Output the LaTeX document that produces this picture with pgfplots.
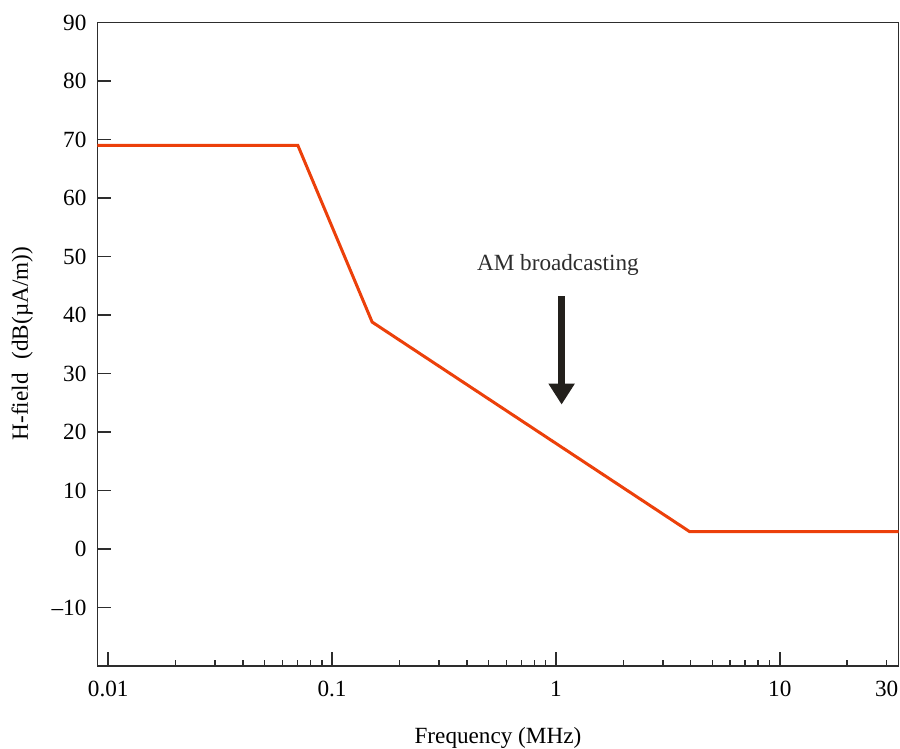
\documentclass[border=0pt]{standalone}
\usepackage{fontspec}
\setmainfont{Liberation Serif}
\usepackage{pgfplots}
\pgfplotsset{compat=1.18}
\usetikzlibrary{arrows.meta}
\definecolor{hline}{RGB}{236,64,10}
\definecolor{axgray}{RGB}{45,45,45}
\definecolor{arrowk}{RGB}{35,32,28}

\begin{document}
\begin{tikzpicture}
\begin{semilogxaxis}[
    scale only axis,
    width=400.75pt, height=322pt,
    xmin=0.00895, xmax=33.9,
    ymin=-20, ymax=90,
    font=\fontsize{11.6}{14}\selectfont,
    /pgf/number format/assume math mode=true,
    axis line style={axgray, line width=0.75pt},
    every tick/.style={axgray, line width=0.75pt},
    tick align=inside,
    xtick pos=bottom, ytick pos=left,
    xtick={0.01,0.1,1,10},
    xticklabels={0.01,0.1,1,10},
    minor xtick={0.02,0.03,0.04,0.05,0.06,0.07,0.08,0.09,
                 0.2,0.3,0.4,0.5,0.6,0.7,0.8,0.9,
                 2,3,4,5,6,7,8,9,20},
    extra x ticks={30},
    extra x tick labels={30},
    extra x tick style={major tick length=3.3pt},
    ytick={-10,0,10,20,30,40,50,60,70,80,90},
    yticklabels={--10,0,10,20,30,40,50,60,70,80,90},
    minor y tick num=0,
    major tick length=7pt,
    minor tick length=3.3pt,
    xticklabel style={yshift=-4pt},
    yticklabel style={xshift=-2pt},
    xlabel={Frequency (MHz)},
    ylabel={H-field\hspace{0.6em}(dB(µA/m))},
    xlabel style={at={(axis description cs:0.5,-0.111)}, anchor=center},
    ylabel style={at={(axis description cs:-0.094,0.501)}, anchor=center, rotate=0},
  ]
  % radiated emission limit line
  \addplot[hline, line width=1.5pt, line join=miter] coordinates {
    (0.00895,69) (0.0703,69) (0.151,38.8) (3.95,3) (33.9,3)
  };
  \draw[arrowk, line width=3.5pt, -{Triangle[width=12.5pt,length=10.5pt]}]
    (axis cs:1.06,43.2) -- (axis cs:1.06,24.7);
  \node[font=\fontsize{11.6}{14}\selectfont, text=axgray] at (axis cs:1.02,48.5) {AM broadcasting};
\end{semilogxaxis}
\pgfresetboundingbox
\path[use as bounding box] ([shift={(-48.75pt,-41.25pt)}]current axis.south west)
  rectangle ([shift={(0.75pt,11.25pt)}]current axis.north east);
\end{tikzpicture}
\end{document}
